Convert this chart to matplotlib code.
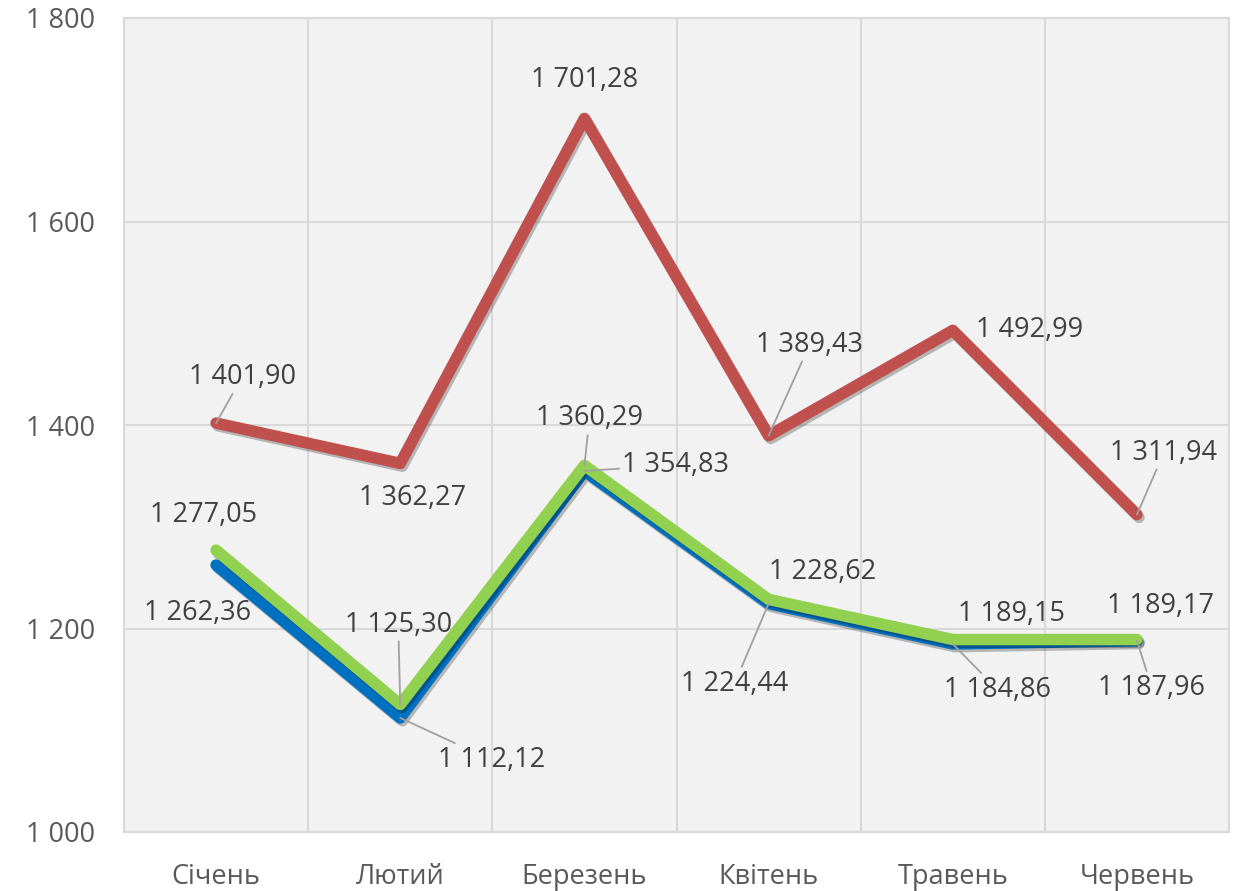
import matplotlib
matplotlib.use("Agg")
import matplotlib.pyplot as plt
import matplotlib.patheffects as pe
from matplotlib.ticker import FuncFormatter, FixedLocator

plt.rcParams['font.family'] = ['Open Sans', 'DejaVu Sans']

months = ["Січень", "Лютий", "Березень", "Квітень", "Травень", "Червень"]
red_vals = [1401.90, 1362.27, 1701.28, 1389.43, 1492.99, 1311.94]
blue_vals = [1262.36, 1112.12, 1354.83, 1224.44, 1184.86, 1187.96]
green_vals = [1277.05, 1125.30, 1360.29, 1228.62, 1189.15, 1189.17]
y_ticks = [1000, 1200, 1400, 1600, 1800]

def fmt(v):
    s = f"{v:,.2f}".replace(",", " ").replace(".", ",")
    return s

fig = plt.figure(figsize=(12.36, 8.91), dpi=100)
ax = fig.add_axes([124/1236, 1-832/891, 1105/1236, 814/891])
ax.set_facecolor("#F2F2F2")

x = list(range(len(months)))
shadow = [pe.SimpleLineShadow(offset=(1.5, -2), alpha=0.25, shadow_color='black'), pe.Normal()]
common = dict(lw=8.3, solid_joinstyle='round', solid_capstyle='round', path_effects=shadow)
ax.plot(x, red_vals, color="#C0504D", zorder=3, **common)
ax.plot(x, blue_vals, color="#0070C0", zorder=3, **common)
ax.plot(x, green_vals, color="#92D050", zorder=4, **common)

# label offsets in pixels (dx, dy), and whether leader line drawn
red_off = [(26, 46), (12, -35), (0, 38), (41, 91), (77, 0), (27, 62)]
red_lead = [True, False, False, True, False, True]
blue_off = [(-19, -48), (91, -42), (91, 6), (-34, -80), (45, -46), (15, -47)]
blue_lead = [False, True, True, True, True, True]
green_off = [(-13, 35), (-2, 80), (5, 47), (54, 27), (59, 26), (24, 34)]
green_lead = [False, True, True, False, False, False]

for vals, offs, leads in [(red_vals, red_off, red_lead), (blue_vals, blue_off, blue_lead),
                          (green_vals, green_off, green_lead)]:
    for i, v in enumerate(vals):
        kw = {}
        if leads[i]:
            kw['arrowprops'] = dict(arrowstyle='-', color='#A0A0A0', lw=1.3, shrinkA=0, shrinkB=0)
        ax.annotate(fmt(v), xy=(i, v), xytext=offs[i], textcoords='offset pixels',
                    ha='center', va='center', fontsize=19.5, color='#404040', zorder=6, **kw)

ax.set_xlim(-0.5, len(months) - 0.5)
ax.set_ylim(1000, 1800)
ax.set_xticks(x)
ax.set_xticklabels(months)
ax.set_yticks(y_ticks)
ax.yaxis.set_major_formatter(FuncFormatter(lambda v, p: f"{int(v):,}".replace(",", " ")))
ax.xaxis.set_minor_locator(FixedLocator([i + 0.5 for i in range(len(months) - 1)]))
ax.tick_params(axis='both', which='both', length=0, labelsize=19.5, colors='#595959')
ax.tick_params(axis='x', pad=22)
ax.tick_params(axis='y', pad=21)
ax.grid(True, axis='y', which='major', color='#D9D9D9', lw=1.5, zorder=1)
ax.grid(True, axis='x', which='minor', color='#D9D9D9', lw=1.5, zorder=1)
ax.grid(False, axis='x', which='major')
ax.set_axisbelow(True)
for s in ax.spines.values():
    s.set_color('#D9D9D9')
    s.set_linewidth(1.5)

fig.savefig("out.png", dpi=100, facecolor='white')
